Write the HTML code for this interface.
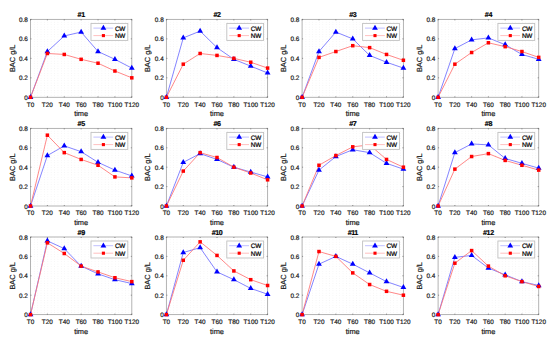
<!DOCTYPE html><html><head><meta charset="utf-8"><style>html,body{margin:0;padding:0;background:#fff;width:550px;height:342px;overflow:hidden}svg{display:block}text{font-family:"Liberation Sans",sans-serif;text-rendering:geometricPrecision;stroke:currentColor;stroke-width:0.2px}</style></head><body>
<svg width="550" height="342" viewBox="0 0 550 342">
<rect width="550" height="342" fill="#fff"/>
<defs><pattern id="g1" patternUnits="userSpaceOnUse" x="30.5" y="97.3" width="3.3767" height="2.4344"><rect x="-0.4" y="-0.4" width="0.8" height="0.8" fill="#cacaca"/></pattern></defs>
<rect x="31" y="19.9" width="100.3" height="76.9" fill="url(#g1)"/>
<rect x="30.5" y="19.4" width="101.3" height="77.9" fill="none" stroke="#ababab" stroke-width="0.9"/>
<path d="M30.5 97.3v-1M30.5 19.4v1M47.38 97.3v-1M47.38 19.4v1M64.27 97.3v-1M64.27 19.4v1M81.15 97.3v-1M81.15 19.4v1M98.03 97.3v-1M98.03 19.4v1M114.92 97.3v-1M114.92 19.4v1M131.8 97.3v-1M131.8 19.4v1M30.5 97.3h1M131.8 97.3h-1M30.5 77.82h1M131.8 77.82h-1M30.5 58.35h1M131.8 58.35h-1M30.5 38.87h1M131.8 38.87h-1M30.5 19.4h1M131.8 19.4h-1" stroke="#505050" stroke-width="0.6" fill="none"/>
<text x="30.5" y="106.7" font-size="6.4" text-anchor="middle" fill="#1a1a1a" color="#1a1a1a">T0</text>
<text x="47.38" y="106.7" font-size="6.4" text-anchor="middle" fill="#1a1a1a" color="#1a1a1a">T20</text>
<text x="64.27" y="106.7" font-size="6.4" text-anchor="middle" fill="#1a1a1a" color="#1a1a1a">T40</text>
<text x="81.15" y="106.7" font-size="6.4" text-anchor="middle" fill="#1a1a1a" color="#1a1a1a">T60</text>
<text x="98.03" y="106.7" font-size="6.4" text-anchor="middle" fill="#1a1a1a" color="#1a1a1a">T80</text>
<text x="114.92" y="106.7" font-size="6.4" text-anchor="middle" fill="#1a1a1a" color="#1a1a1a">T100</text>
<text x="131.8" y="106.7" font-size="6.4" text-anchor="middle" fill="#1a1a1a" color="#1a1a1a">T120</text>
<text x="27.8" y="99.9" font-size="6.4" text-anchor="end" fill="#1a1a1a" color="#1a1a1a">0</text>
<text x="27.8" y="80.42" font-size="6.4" text-anchor="end" fill="#1a1a1a" color="#1a1a1a">0.2</text>
<text x="27.8" y="60.95" font-size="6.4" text-anchor="end" fill="#1a1a1a" color="#1a1a1a">0.4</text>
<text x="27.8" y="41.47" font-size="6.4" text-anchor="end" fill="#1a1a1a" color="#1a1a1a">0.6</text>
<text x="27.8" y="22" font-size="6.4" text-anchor="end" fill="#1a1a1a" color="#1a1a1a">0.8</text>
<text x="81.15" y="16.9" font-size="7.1" font-weight="bold" letter-spacing="-0.4" text-anchor="middle" fill="#000" color="#000">#1</text>
<text x="81.15" y="116.3" font-size="7.4" text-anchor="middle" fill="#1a1a1a" color="#1a1a1a">time</text>
<text transform="translate(14.5 58.35) rotate(-90)" font-size="7.4" text-anchor="middle" fill="#1a1a1a" color="#1a1a1a">BAC g/L</text>
<polyline points="30.5,97.3 47.38,51.53 64.27,35.95 81.15,32.06 98.03,51.53 114.92,59.32 131.8,68.09" fill="none" stroke="#6e6eff" stroke-width="0.85"/>
<polyline points="30.5,97.3 47.38,53.48 64.27,54.45 81.15,59.32 98.03,63.22 114.92,71.01 131.8,77.82" fill="none" stroke="#ff7272" stroke-width="0.85"/>
<path d="M30.5 93.95l2.9 5.0h-5.8z" fill="#0000ff"/>
<path d="M47.38 48.18l2.9 5.0h-5.8z" fill="#0000ff"/>
<path d="M64.27 32.6l2.9 5.0h-5.8z" fill="#0000ff"/>
<path d="M81.15 28.71l2.9 5.0h-5.8z" fill="#0000ff"/>
<path d="M98.03 48.18l2.9 5.0h-5.8z" fill="#0000ff"/>
<path d="M114.92 55.97l2.9 5.0h-5.8z" fill="#0000ff"/>
<path d="M131.8 64.74l2.9 5.0h-5.8z" fill="#0000ff"/>
<rect x="28.75" y="95.55" width="3.5" height="3.5" fill="#ff0000"/>
<rect x="45.63" y="51.73" width="3.5" height="3.5" fill="#ff0000"/>
<rect x="62.52" y="52.7" width="3.5" height="3.5" fill="#ff0000"/>
<rect x="79.4" y="57.57" width="3.5" height="3.5" fill="#ff0000"/>
<rect x="96.28" y="61.47" width="3.5" height="3.5" fill="#ff0000"/>
<rect x="113.17" y="69.26" width="3.5" height="3.5" fill="#ff0000"/>
<rect x="130.05" y="76.07" width="3.5" height="3.5" fill="#ff0000"/>
<rect x="91" y="23.4" width="36.8" height="17" fill="#fff" stroke="#c0c0c0" stroke-width="0.9"/>
<path d="M93.4 28.1h19.8" stroke="#b0b0ff" stroke-width="0.8"/>
<path d="M93.4 35.6h19.8" stroke="#ffb0b0" stroke-width="0.8"/>
<path d="M103.4 24.8l2.9 5.0h-5.8z" fill="#0000ff"/>
<rect x="101.85" y="34.05" width="3.1" height="3.1" fill="#ff0000"/>
<text x="115" y="30.55" font-size="6.4" letter-spacing="-0.25" fill="#000" color="#000">CW</text>
<text x="115" y="38.05" font-size="6.4" letter-spacing="-0.25" fill="#000" color="#000">NW</text>
<defs><pattern id="g2" patternUnits="userSpaceOnUse" x="166.4" y="97.3" width="3.3733" height="2.4344"><rect x="-0.4" y="-0.4" width="0.8" height="0.8" fill="#cacaca"/></pattern></defs>
<rect x="166.9" y="19.9" width="100.2" height="76.9" fill="url(#g2)"/>
<rect x="166.4" y="19.4" width="101.2" height="77.9" fill="none" stroke="#ababab" stroke-width="0.9"/>
<path d="M166.4 97.3v-1M166.4 19.4v1M183.27 97.3v-1M183.27 19.4v1M200.13 97.3v-1M200.13 19.4v1M217 97.3v-1M217 19.4v1M233.87 97.3v-1M233.87 19.4v1M250.73 97.3v-1M250.73 19.4v1M267.6 97.3v-1M267.6 19.4v1M166.4 97.3h1M267.6 97.3h-1M166.4 77.82h1M267.6 77.82h-1M166.4 58.35h1M267.6 58.35h-1M166.4 38.87h1M267.6 38.87h-1M166.4 19.4h1M267.6 19.4h-1" stroke="#505050" stroke-width="0.6" fill="none"/>
<text x="166.4" y="106.7" font-size="6.4" text-anchor="middle" fill="#1a1a1a" color="#1a1a1a">T0</text>
<text x="183.27" y="106.7" font-size="6.4" text-anchor="middle" fill="#1a1a1a" color="#1a1a1a">T20</text>
<text x="200.13" y="106.7" font-size="6.4" text-anchor="middle" fill="#1a1a1a" color="#1a1a1a">T40</text>
<text x="217" y="106.7" font-size="6.4" text-anchor="middle" fill="#1a1a1a" color="#1a1a1a">T60</text>
<text x="233.87" y="106.7" font-size="6.4" text-anchor="middle" fill="#1a1a1a" color="#1a1a1a">T80</text>
<text x="250.73" y="106.7" font-size="6.4" text-anchor="middle" fill="#1a1a1a" color="#1a1a1a">T100</text>
<text x="267.6" y="106.7" font-size="6.4" text-anchor="middle" fill="#1a1a1a" color="#1a1a1a">T120</text>
<text x="163.7" y="99.9" font-size="6.4" text-anchor="end" fill="#1a1a1a" color="#1a1a1a">0</text>
<text x="163.7" y="80.42" font-size="6.4" text-anchor="end" fill="#1a1a1a" color="#1a1a1a">0.2</text>
<text x="163.7" y="60.95" font-size="6.4" text-anchor="end" fill="#1a1a1a" color="#1a1a1a">0.4</text>
<text x="163.7" y="41.47" font-size="6.4" text-anchor="end" fill="#1a1a1a" color="#1a1a1a">0.6</text>
<text x="163.7" y="22" font-size="6.4" text-anchor="end" fill="#1a1a1a" color="#1a1a1a">0.8</text>
<text x="217" y="16.9" font-size="7.1" font-weight="bold" letter-spacing="-0.4" text-anchor="middle" fill="#000" color="#000">#2</text>
<text x="217" y="116.3" font-size="7.4" text-anchor="middle" fill="#1a1a1a" color="#1a1a1a">time</text>
<text transform="translate(150.4 58.35) rotate(-90)" font-size="7.4" text-anchor="middle" fill="#1a1a1a" color="#1a1a1a">BAC g/L</text>
<polyline points="166.4,97.3 183.27,37.9 200.13,31.08 217,47.64 233.87,59.32 250.73,66.14 267.6,72.96" fill="none" stroke="#6e6eff" stroke-width="0.85"/>
<polyline points="166.4,97.3 183.27,64.19 200.13,53.48 217,55.43 233.87,58.35 250.73,62.24 267.6,68.09" fill="none" stroke="#ff7272" stroke-width="0.85"/>
<path d="M166.4 93.95l2.9 5.0h-5.8z" fill="#0000ff"/>
<path d="M183.27 34.55l2.9 5.0h-5.8z" fill="#0000ff"/>
<path d="M200.13 27.73l2.9 5.0h-5.8z" fill="#0000ff"/>
<path d="M217 44.29l2.9 5.0h-5.8z" fill="#0000ff"/>
<path d="M233.87 55.97l2.9 5.0h-5.8z" fill="#0000ff"/>
<path d="M250.73 62.79l2.9 5.0h-5.8z" fill="#0000ff"/>
<path d="M267.6 69.61l2.9 5.0h-5.8z" fill="#0000ff"/>
<rect x="164.65" y="95.55" width="3.5" height="3.5" fill="#ff0000"/>
<rect x="181.52" y="62.44" width="3.5" height="3.5" fill="#ff0000"/>
<rect x="198.38" y="51.73" width="3.5" height="3.5" fill="#ff0000"/>
<rect x="215.25" y="53.68" width="3.5" height="3.5" fill="#ff0000"/>
<rect x="232.12" y="56.6" width="3.5" height="3.5" fill="#ff0000"/>
<rect x="248.98" y="60.49" width="3.5" height="3.5" fill="#ff0000"/>
<rect x="265.85" y="66.34" width="3.5" height="3.5" fill="#ff0000"/>
<rect x="226.8" y="23.4" width="36.8" height="17" fill="#fff" stroke="#c0c0c0" stroke-width="0.9"/>
<path d="M229.2 28.1h19.8" stroke="#b0b0ff" stroke-width="0.8"/>
<path d="M229.2 35.6h19.8" stroke="#ffb0b0" stroke-width="0.8"/>
<path d="M239.2 24.8l2.9 5.0h-5.8z" fill="#0000ff"/>
<rect x="237.65" y="34.05" width="3.1" height="3.1" fill="#ff0000"/>
<text x="250.8" y="30.55" font-size="6.4" letter-spacing="-0.25" fill="#000" color="#000">CW</text>
<text x="250.8" y="38.05" font-size="6.4" letter-spacing="-0.25" fill="#000" color="#000">NW</text>
<defs><pattern id="g3" patternUnits="userSpaceOnUse" x="302.1" y="97.3" width="3.3767" height="2.4344"><rect x="-0.4" y="-0.4" width="0.8" height="0.8" fill="#cacaca"/></pattern></defs>
<rect x="302.6" y="19.9" width="100.3" height="76.9" fill="url(#g3)"/>
<rect x="302.1" y="19.4" width="101.3" height="77.9" fill="none" stroke="#ababab" stroke-width="0.9"/>
<path d="M302.1 97.3v-1M302.1 19.4v1M318.98 97.3v-1M318.98 19.4v1M335.87 97.3v-1M335.87 19.4v1M352.75 97.3v-1M352.75 19.4v1M369.63 97.3v-1M369.63 19.4v1M386.52 97.3v-1M386.52 19.4v1M403.4 97.3v-1M403.4 19.4v1M302.1 97.3h1M403.4 97.3h-1M302.1 77.82h1M403.4 77.82h-1M302.1 58.35h1M403.4 58.35h-1M302.1 38.87h1M403.4 38.87h-1M302.1 19.4h1M403.4 19.4h-1" stroke="#505050" stroke-width="0.6" fill="none"/>
<text x="302.1" y="106.7" font-size="6.4" text-anchor="middle" fill="#1a1a1a" color="#1a1a1a">T0</text>
<text x="318.98" y="106.7" font-size="6.4" text-anchor="middle" fill="#1a1a1a" color="#1a1a1a">T20</text>
<text x="335.87" y="106.7" font-size="6.4" text-anchor="middle" fill="#1a1a1a" color="#1a1a1a">T40</text>
<text x="352.75" y="106.7" font-size="6.4" text-anchor="middle" fill="#1a1a1a" color="#1a1a1a">T60</text>
<text x="369.63" y="106.7" font-size="6.4" text-anchor="middle" fill="#1a1a1a" color="#1a1a1a">T80</text>
<text x="386.52" y="106.7" font-size="6.4" text-anchor="middle" fill="#1a1a1a" color="#1a1a1a">T100</text>
<text x="403.4" y="106.7" font-size="6.4" text-anchor="middle" fill="#1a1a1a" color="#1a1a1a">T120</text>
<text x="299.4" y="99.9" font-size="6.4" text-anchor="end" fill="#1a1a1a" color="#1a1a1a">0</text>
<text x="299.4" y="80.42" font-size="6.4" text-anchor="end" fill="#1a1a1a" color="#1a1a1a">0.2</text>
<text x="299.4" y="60.95" font-size="6.4" text-anchor="end" fill="#1a1a1a" color="#1a1a1a">0.4</text>
<text x="299.4" y="41.47" font-size="6.4" text-anchor="end" fill="#1a1a1a" color="#1a1a1a">0.6</text>
<text x="299.4" y="22" font-size="6.4" text-anchor="end" fill="#1a1a1a" color="#1a1a1a">0.8</text>
<text x="352.75" y="16.9" font-size="7.1" font-weight="bold" letter-spacing="-0.4" text-anchor="middle" fill="#000" color="#000">#3</text>
<text x="352.75" y="116.3" font-size="7.4" text-anchor="middle" fill="#1a1a1a" color="#1a1a1a">time</text>
<text transform="translate(286.1 58.35) rotate(-90)" font-size="7.4" text-anchor="middle" fill="#1a1a1a" color="#1a1a1a">BAC g/L</text>
<polyline points="302.1,97.3 318.98,51.53 335.87,32.06 352.75,38.88 369.63,55.43 386.52,62.24 403.4,68.09" fill="none" stroke="#6e6eff" stroke-width="0.85"/>
<polyline points="302.1,97.3 318.98,57.38 335.87,51.53 352.75,45.69 369.63,47.64 386.52,54.45 403.4,60.3" fill="none" stroke="#ff7272" stroke-width="0.85"/>
<path d="M302.1 93.95l2.9 5.0h-5.8z" fill="#0000ff"/>
<path d="M318.98 48.18l2.9 5.0h-5.8z" fill="#0000ff"/>
<path d="M335.87 28.71l2.9 5.0h-5.8z" fill="#0000ff"/>
<path d="M352.75 35.52l2.9 5.0h-5.8z" fill="#0000ff"/>
<path d="M369.63 52.08l2.9 5.0h-5.8z" fill="#0000ff"/>
<path d="M386.52 58.89l2.9 5.0h-5.8z" fill="#0000ff"/>
<path d="M403.4 64.74l2.9 5.0h-5.8z" fill="#0000ff"/>
<rect x="300.35" y="95.55" width="3.5" height="3.5" fill="#ff0000"/>
<rect x="317.23" y="55.63" width="3.5" height="3.5" fill="#ff0000"/>
<rect x="334.12" y="49.78" width="3.5" height="3.5" fill="#ff0000"/>
<rect x="351" y="43.94" width="3.5" height="3.5" fill="#ff0000"/>
<rect x="367.88" y="45.89" width="3.5" height="3.5" fill="#ff0000"/>
<rect x="384.77" y="52.7" width="3.5" height="3.5" fill="#ff0000"/>
<rect x="401.65" y="58.55" width="3.5" height="3.5" fill="#ff0000"/>
<rect x="362.6" y="23.4" width="36.8" height="17" fill="#fff" stroke="#c0c0c0" stroke-width="0.9"/>
<path d="M365 28.1h19.8" stroke="#b0b0ff" stroke-width="0.8"/>
<path d="M365 35.6h19.8" stroke="#ffb0b0" stroke-width="0.8"/>
<path d="M375 24.8l2.9 5.0h-5.8z" fill="#0000ff"/>
<rect x="373.45" y="34.05" width="3.1" height="3.1" fill="#ff0000"/>
<text x="386.6" y="30.55" font-size="6.4" letter-spacing="-0.25" fill="#000" color="#000">CW</text>
<text x="386.6" y="38.05" font-size="6.4" letter-spacing="-0.25" fill="#000" color="#000">NW</text>
<defs><pattern id="g4" patternUnits="userSpaceOnUse" x="438.1" y="97.3" width="3.3533" height="2.4344"><rect x="-0.4" y="-0.4" width="0.8" height="0.8" fill="#cacaca"/></pattern></defs>
<rect x="438.6" y="19.9" width="99.6" height="76.9" fill="url(#g4)"/>
<rect x="438.1" y="19.4" width="100.6" height="77.9" fill="none" stroke="#ababab" stroke-width="0.9"/>
<path d="M438.1 97.3v-1M438.1 19.4v1M454.87 97.3v-1M454.87 19.4v1M471.63 97.3v-1M471.63 19.4v1M488.4 97.3v-1M488.4 19.4v1M505.17 97.3v-1M505.17 19.4v1M521.93 97.3v-1M521.93 19.4v1M538.7 97.3v-1M538.7 19.4v1M438.1 97.3h1M538.7 97.3h-1M438.1 77.82h1M538.7 77.82h-1M438.1 58.35h1M538.7 58.35h-1M438.1 38.87h1M538.7 38.87h-1M438.1 19.4h1M538.7 19.4h-1" stroke="#505050" stroke-width="0.6" fill="none"/>
<text x="438.1" y="106.7" font-size="6.4" text-anchor="middle" fill="#1a1a1a" color="#1a1a1a">T0</text>
<text x="454.87" y="106.7" font-size="6.4" text-anchor="middle" fill="#1a1a1a" color="#1a1a1a">T20</text>
<text x="471.63" y="106.7" font-size="6.4" text-anchor="middle" fill="#1a1a1a" color="#1a1a1a">T40</text>
<text x="488.4" y="106.7" font-size="6.4" text-anchor="middle" fill="#1a1a1a" color="#1a1a1a">T60</text>
<text x="505.17" y="106.7" font-size="6.4" text-anchor="middle" fill="#1a1a1a" color="#1a1a1a">T80</text>
<text x="521.93" y="106.7" font-size="6.4" text-anchor="middle" fill="#1a1a1a" color="#1a1a1a">T100</text>
<text x="538.7" y="106.7" font-size="6.4" text-anchor="middle" fill="#1a1a1a" color="#1a1a1a">T120</text>
<text x="435.4" y="99.9" font-size="6.4" text-anchor="end" fill="#1a1a1a" color="#1a1a1a">0</text>
<text x="435.4" y="80.42" font-size="6.4" text-anchor="end" fill="#1a1a1a" color="#1a1a1a">0.2</text>
<text x="435.4" y="60.95" font-size="6.4" text-anchor="end" fill="#1a1a1a" color="#1a1a1a">0.4</text>
<text x="435.4" y="41.47" font-size="6.4" text-anchor="end" fill="#1a1a1a" color="#1a1a1a">0.6</text>
<text x="435.4" y="22" font-size="6.4" text-anchor="end" fill="#1a1a1a" color="#1a1a1a">0.8</text>
<text x="488.4" y="16.9" font-size="7.1" font-weight="bold" letter-spacing="-0.4" text-anchor="middle" fill="#000" color="#000">#4</text>
<text x="488.4" y="116.3" font-size="7.4" text-anchor="middle" fill="#1a1a1a" color="#1a1a1a">time</text>
<text transform="translate(422.1 58.35) rotate(-90)" font-size="7.4" text-anchor="middle" fill="#1a1a1a" color="#1a1a1a">BAC g/L</text>
<polyline points="438.1,97.3 454.87,48.61 471.63,39.85 488.4,37.9 505.17,44.72 521.93,54.45 538.7,59.32" fill="none" stroke="#6e6eff" stroke-width="0.85"/>
<polyline points="438.1,97.3 454.87,64.19 471.63,52.51 488.4,42.77 505.17,46.66 521.93,51.53 538.7,57.38" fill="none" stroke="#ff7272" stroke-width="0.85"/>
<path d="M438.1 93.95l2.9 5.0h-5.8z" fill="#0000ff"/>
<path d="M454.87 45.26l2.9 5.0h-5.8z" fill="#0000ff"/>
<path d="M471.63 36.5l2.9 5.0h-5.8z" fill="#0000ff"/>
<path d="M488.4 34.55l2.9 5.0h-5.8z" fill="#0000ff"/>
<path d="M505.17 41.37l2.9 5.0h-5.8z" fill="#0000ff"/>
<path d="M521.93 51.1l2.9 5.0h-5.8z" fill="#0000ff"/>
<path d="M538.7 55.97l2.9 5.0h-5.8z" fill="#0000ff"/>
<rect x="436.35" y="95.55" width="3.5" height="3.5" fill="#ff0000"/>
<rect x="453.12" y="62.44" width="3.5" height="3.5" fill="#ff0000"/>
<rect x="469.88" y="50.76" width="3.5" height="3.5" fill="#ff0000"/>
<rect x="486.65" y="41.02" width="3.5" height="3.5" fill="#ff0000"/>
<rect x="503.42" y="44.91" width="3.5" height="3.5" fill="#ff0000"/>
<rect x="520.18" y="49.78" width="3.5" height="3.5" fill="#ff0000"/>
<rect x="536.95" y="55.63" width="3.5" height="3.5" fill="#ff0000"/>
<rect x="497.9" y="23.4" width="36.8" height="17" fill="#fff" stroke="#c0c0c0" stroke-width="0.9"/>
<path d="M500.3 28.1h19.8" stroke="#b0b0ff" stroke-width="0.8"/>
<path d="M500.3 35.6h19.8" stroke="#ffb0b0" stroke-width="0.8"/>
<path d="M510.3 24.8l2.9 5.0h-5.8z" fill="#0000ff"/>
<rect x="508.75" y="34.05" width="3.1" height="3.1" fill="#ff0000"/>
<text x="521.9" y="30.55" font-size="6.4" letter-spacing="-0.25" fill="#000" color="#000">CW</text>
<text x="521.9" y="38.05" font-size="6.4" letter-spacing="-0.25" fill="#000" color="#000">NW</text>
<defs><pattern id="g5" patternUnits="userSpaceOnUse" x="30.5" y="206" width="3.3767" height="2.4250"><rect x="-0.4" y="-0.4" width="0.8" height="0.8" fill="#cacaca"/></pattern></defs>
<rect x="31" y="128.9" width="100.3" height="76.6" fill="url(#g5)"/>
<rect x="30.5" y="128.4" width="101.3" height="77.6" fill="none" stroke="#ababab" stroke-width="0.9"/>
<path d="M30.5 206v-1M30.5 128.4v1M47.38 206v-1M47.38 128.4v1M64.27 206v-1M64.27 128.4v1M81.15 206v-1M81.15 128.4v1M98.03 206v-1M98.03 128.4v1M114.92 206v-1M114.92 128.4v1M131.8 206v-1M131.8 128.4v1M30.5 206h1M131.8 206h-1M30.5 186.6h1M131.8 186.6h-1M30.5 167.2h1M131.8 167.2h-1M30.5 147.8h1M131.8 147.8h-1M30.5 128.4h1M131.8 128.4h-1" stroke="#505050" stroke-width="0.6" fill="none"/>
<text x="30.5" y="215.4" font-size="6.4" text-anchor="middle" fill="#1a1a1a" color="#1a1a1a">T0</text>
<text x="47.38" y="215.4" font-size="6.4" text-anchor="middle" fill="#1a1a1a" color="#1a1a1a">T20</text>
<text x="64.27" y="215.4" font-size="6.4" text-anchor="middle" fill="#1a1a1a" color="#1a1a1a">T40</text>
<text x="81.15" y="215.4" font-size="6.4" text-anchor="middle" fill="#1a1a1a" color="#1a1a1a">T60</text>
<text x="98.03" y="215.4" font-size="6.4" text-anchor="middle" fill="#1a1a1a" color="#1a1a1a">T80</text>
<text x="114.92" y="215.4" font-size="6.4" text-anchor="middle" fill="#1a1a1a" color="#1a1a1a">T100</text>
<text x="131.8" y="215.4" font-size="6.4" text-anchor="middle" fill="#1a1a1a" color="#1a1a1a">T120</text>
<text x="27.8" y="208.6" font-size="6.4" text-anchor="end" fill="#1a1a1a" color="#1a1a1a">0</text>
<text x="27.8" y="189.2" font-size="6.4" text-anchor="end" fill="#1a1a1a" color="#1a1a1a">0.2</text>
<text x="27.8" y="169.8" font-size="6.4" text-anchor="end" fill="#1a1a1a" color="#1a1a1a">0.4</text>
<text x="27.8" y="150.4" font-size="6.4" text-anchor="end" fill="#1a1a1a" color="#1a1a1a">0.6</text>
<text x="27.8" y="131" font-size="6.4" text-anchor="end" fill="#1a1a1a" color="#1a1a1a">0.8</text>
<text x="81.15" y="125.9" font-size="7.1" font-weight="bold" letter-spacing="-0.4" text-anchor="middle" fill="#000" color="#000">#5</text>
<text x="81.15" y="225" font-size="7.4" text-anchor="middle" fill="#1a1a1a" color="#1a1a1a">time</text>
<text transform="translate(14.5 167.2) rotate(-90)" font-size="7.4" text-anchor="middle" fill="#1a1a1a" color="#1a1a1a">BAC g/L</text>
<polyline points="30.5,206 47.38,155.56 64.27,145.86 81.15,151.68 98.03,162.35 114.92,170.11 131.8,175.93" fill="none" stroke="#6e6eff" stroke-width="0.85"/>
<polyline points="30.5,206 47.38,135.19 64.27,152.65 81.15,159.44 98.03,165.26 114.92,176.9 131.8,177.87" fill="none" stroke="#ff7272" stroke-width="0.85"/>
<path d="M30.5 202.65l2.9 5.0h-5.8z" fill="#0000ff"/>
<path d="M47.38 152.21l2.9 5.0h-5.8z" fill="#0000ff"/>
<path d="M64.27 142.51l2.9 5.0h-5.8z" fill="#0000ff"/>
<path d="M81.15 148.33l2.9 5.0h-5.8z" fill="#0000ff"/>
<path d="M98.03 159l2.9 5.0h-5.8z" fill="#0000ff"/>
<path d="M114.92 166.76l2.9 5.0h-5.8z" fill="#0000ff"/>
<path d="M131.8 172.58l2.9 5.0h-5.8z" fill="#0000ff"/>
<rect x="28.75" y="204.25" width="3.5" height="3.5" fill="#ff0000"/>
<rect x="45.63" y="133.44" width="3.5" height="3.5" fill="#ff0000"/>
<rect x="62.52" y="150.9" width="3.5" height="3.5" fill="#ff0000"/>
<rect x="79.4" y="157.69" width="3.5" height="3.5" fill="#ff0000"/>
<rect x="96.28" y="163.51" width="3.5" height="3.5" fill="#ff0000"/>
<rect x="113.17" y="175.15" width="3.5" height="3.5" fill="#ff0000"/>
<rect x="130.05" y="176.12" width="3.5" height="3.5" fill="#ff0000"/>
<rect x="91" y="132.4" width="36.8" height="17" fill="#fff" stroke="#c0c0c0" stroke-width="0.9"/>
<path d="M93.4 137.1h19.8" stroke="#b0b0ff" stroke-width="0.8"/>
<path d="M93.4 144.6h19.8" stroke="#ffb0b0" stroke-width="0.8"/>
<path d="M103.4 133.8l2.9 5.0h-5.8z" fill="#0000ff"/>
<rect x="101.85" y="143.05" width="3.1" height="3.1" fill="#ff0000"/>
<text x="115" y="139.55" font-size="6.4" letter-spacing="-0.25" fill="#000" color="#000">CW</text>
<text x="115" y="147.05" font-size="6.4" letter-spacing="-0.25" fill="#000" color="#000">NW</text>
<defs><pattern id="g6" patternUnits="userSpaceOnUse" x="166.4" y="206" width="3.3733" height="2.4250"><rect x="-0.4" y="-0.4" width="0.8" height="0.8" fill="#cacaca"/></pattern></defs>
<rect x="166.9" y="128.9" width="100.2" height="76.6" fill="url(#g6)"/>
<rect x="166.4" y="128.4" width="101.2" height="77.6" fill="none" stroke="#ababab" stroke-width="0.9"/>
<path d="M166.4 206v-1M166.4 128.4v1M183.27 206v-1M183.27 128.4v1M200.13 206v-1M200.13 128.4v1M217 206v-1M217 128.4v1M233.87 206v-1M233.87 128.4v1M250.73 206v-1M250.73 128.4v1M267.6 206v-1M267.6 128.4v1M166.4 206h1M267.6 206h-1M166.4 186.6h1M267.6 186.6h-1M166.4 167.2h1M267.6 167.2h-1M166.4 147.8h1M267.6 147.8h-1M166.4 128.4h1M267.6 128.4h-1" stroke="#505050" stroke-width="0.6" fill="none"/>
<text x="166.4" y="215.4" font-size="6.4" text-anchor="middle" fill="#1a1a1a" color="#1a1a1a">T0</text>
<text x="183.27" y="215.4" font-size="6.4" text-anchor="middle" fill="#1a1a1a" color="#1a1a1a">T20</text>
<text x="200.13" y="215.4" font-size="6.4" text-anchor="middle" fill="#1a1a1a" color="#1a1a1a">T40</text>
<text x="217" y="215.4" font-size="6.4" text-anchor="middle" fill="#1a1a1a" color="#1a1a1a">T60</text>
<text x="233.87" y="215.4" font-size="6.4" text-anchor="middle" fill="#1a1a1a" color="#1a1a1a">T80</text>
<text x="250.73" y="215.4" font-size="6.4" text-anchor="middle" fill="#1a1a1a" color="#1a1a1a">T100</text>
<text x="267.6" y="215.4" font-size="6.4" text-anchor="middle" fill="#1a1a1a" color="#1a1a1a">T120</text>
<text x="163.7" y="208.6" font-size="6.4" text-anchor="end" fill="#1a1a1a" color="#1a1a1a">0</text>
<text x="163.7" y="189.2" font-size="6.4" text-anchor="end" fill="#1a1a1a" color="#1a1a1a">0.2</text>
<text x="163.7" y="169.8" font-size="6.4" text-anchor="end" fill="#1a1a1a" color="#1a1a1a">0.4</text>
<text x="163.7" y="150.4" font-size="6.4" text-anchor="end" fill="#1a1a1a" color="#1a1a1a">0.6</text>
<text x="163.7" y="131" font-size="6.4" text-anchor="end" fill="#1a1a1a" color="#1a1a1a">0.8</text>
<text x="217" y="125.9" font-size="7.1" font-weight="bold" letter-spacing="-0.4" text-anchor="middle" fill="#000" color="#000">#6</text>
<text x="217" y="225" font-size="7.4" text-anchor="middle" fill="#1a1a1a" color="#1a1a1a">time</text>
<text transform="translate(150.4 167.2) rotate(-90)" font-size="7.4" text-anchor="middle" fill="#1a1a1a" color="#1a1a1a">BAC g/L</text>
<polyline points="166.4,206 183.27,162.35 200.13,153.62 217,159.44 233.87,167.2 250.73,172.05 267.6,176.9" fill="none" stroke="#6e6eff" stroke-width="0.85"/>
<polyline points="166.4,206 183.27,171.08 200.13,152.65 217,157.5 233.87,167.2 250.73,173.02 267.6,179.81" fill="none" stroke="#ff7272" stroke-width="0.85"/>
<path d="M166.4 202.65l2.9 5.0h-5.8z" fill="#0000ff"/>
<path d="M183.27 159l2.9 5.0h-5.8z" fill="#0000ff"/>
<path d="M200.13 150.27l2.9 5.0h-5.8z" fill="#0000ff"/>
<path d="M217 156.09l2.9 5.0h-5.8z" fill="#0000ff"/>
<path d="M233.87 163.85l2.9 5.0h-5.8z" fill="#0000ff"/>
<path d="M250.73 168.7l2.9 5.0h-5.8z" fill="#0000ff"/>
<path d="M267.6 173.55l2.9 5.0h-5.8z" fill="#0000ff"/>
<rect x="164.65" y="204.25" width="3.5" height="3.5" fill="#ff0000"/>
<rect x="181.52" y="169.33" width="3.5" height="3.5" fill="#ff0000"/>
<rect x="198.38" y="150.9" width="3.5" height="3.5" fill="#ff0000"/>
<rect x="215.25" y="155.75" width="3.5" height="3.5" fill="#ff0000"/>
<rect x="232.12" y="165.45" width="3.5" height="3.5" fill="#ff0000"/>
<rect x="248.98" y="171.27" width="3.5" height="3.5" fill="#ff0000"/>
<rect x="265.85" y="178.06" width="3.5" height="3.5" fill="#ff0000"/>
<rect x="226.8" y="132.4" width="36.8" height="17" fill="#fff" stroke="#c0c0c0" stroke-width="0.9"/>
<path d="M229.2 137.1h19.8" stroke="#b0b0ff" stroke-width="0.8"/>
<path d="M229.2 144.6h19.8" stroke="#ffb0b0" stroke-width="0.8"/>
<path d="M239.2 133.8l2.9 5.0h-5.8z" fill="#0000ff"/>
<rect x="237.65" y="143.05" width="3.1" height="3.1" fill="#ff0000"/>
<text x="250.8" y="139.55" font-size="6.4" letter-spacing="-0.25" fill="#000" color="#000">CW</text>
<text x="250.8" y="147.05" font-size="6.4" letter-spacing="-0.25" fill="#000" color="#000">NW</text>
<defs><pattern id="g7" patternUnits="userSpaceOnUse" x="302.1" y="206" width="3.3767" height="2.4250"><rect x="-0.4" y="-0.4" width="0.8" height="0.8" fill="#cacaca"/></pattern></defs>
<rect x="302.6" y="128.9" width="100.3" height="76.6" fill="url(#g7)"/>
<rect x="302.1" y="128.4" width="101.3" height="77.6" fill="none" stroke="#ababab" stroke-width="0.9"/>
<path d="M302.1 206v-1M302.1 128.4v1M318.98 206v-1M318.98 128.4v1M335.87 206v-1M335.87 128.4v1M352.75 206v-1M352.75 128.4v1M369.63 206v-1M369.63 128.4v1M386.52 206v-1M386.52 128.4v1M403.4 206v-1M403.4 128.4v1M302.1 206h1M403.4 206h-1M302.1 186.6h1M403.4 186.6h-1M302.1 167.2h1M403.4 167.2h-1M302.1 147.8h1M403.4 147.8h-1M302.1 128.4h1M403.4 128.4h-1" stroke="#505050" stroke-width="0.6" fill="none"/>
<text x="302.1" y="215.4" font-size="6.4" text-anchor="middle" fill="#1a1a1a" color="#1a1a1a">T0</text>
<text x="318.98" y="215.4" font-size="6.4" text-anchor="middle" fill="#1a1a1a" color="#1a1a1a">T20</text>
<text x="335.87" y="215.4" font-size="6.4" text-anchor="middle" fill="#1a1a1a" color="#1a1a1a">T40</text>
<text x="352.75" y="215.4" font-size="6.4" text-anchor="middle" fill="#1a1a1a" color="#1a1a1a">T60</text>
<text x="369.63" y="215.4" font-size="6.4" text-anchor="middle" fill="#1a1a1a" color="#1a1a1a">T80</text>
<text x="386.52" y="215.4" font-size="6.4" text-anchor="middle" fill="#1a1a1a" color="#1a1a1a">T100</text>
<text x="403.4" y="215.4" font-size="6.4" text-anchor="middle" fill="#1a1a1a" color="#1a1a1a">T120</text>
<text x="299.4" y="208.6" font-size="6.4" text-anchor="end" fill="#1a1a1a" color="#1a1a1a">0</text>
<text x="299.4" y="189.2" font-size="6.4" text-anchor="end" fill="#1a1a1a" color="#1a1a1a">0.2</text>
<text x="299.4" y="169.8" font-size="6.4" text-anchor="end" fill="#1a1a1a" color="#1a1a1a">0.4</text>
<text x="299.4" y="150.4" font-size="6.4" text-anchor="end" fill="#1a1a1a" color="#1a1a1a">0.6</text>
<text x="299.4" y="131" font-size="6.4" text-anchor="end" fill="#1a1a1a" color="#1a1a1a">0.8</text>
<text x="352.75" y="125.9" font-size="7.1" font-weight="bold" letter-spacing="-0.4" text-anchor="middle" fill="#000" color="#000">#7</text>
<text x="352.75" y="225" font-size="7.4" text-anchor="middle" fill="#1a1a1a" color="#1a1a1a">time</text>
<text transform="translate(286.1 167.2) rotate(-90)" font-size="7.4" text-anchor="middle" fill="#1a1a1a" color="#1a1a1a">BAC g/L</text>
<polyline points="302.1,206 318.98,170.11 335.87,156.53 352.75,149.74 369.63,152.65 386.52,163.32 403.4,169.14" fill="none" stroke="#6e6eff" stroke-width="0.85"/>
<polyline points="302.1,206 318.98,165.26 335.87,155.56 352.75,146.83 369.63,144.89 386.52,159.44 403.4,167.2" fill="none" stroke="#ff7272" stroke-width="0.85"/>
<path d="M302.1 202.65l2.9 5.0h-5.8z" fill="#0000ff"/>
<path d="M318.98 166.76l2.9 5.0h-5.8z" fill="#0000ff"/>
<path d="M335.87 153.18l2.9 5.0h-5.8z" fill="#0000ff"/>
<path d="M352.75 146.39l2.9 5.0h-5.8z" fill="#0000ff"/>
<path d="M369.63 149.3l2.9 5.0h-5.8z" fill="#0000ff"/>
<path d="M386.52 159.97l2.9 5.0h-5.8z" fill="#0000ff"/>
<path d="M403.4 165.79l2.9 5.0h-5.8z" fill="#0000ff"/>
<rect x="300.35" y="204.25" width="3.5" height="3.5" fill="#ff0000"/>
<rect x="317.23" y="163.51" width="3.5" height="3.5" fill="#ff0000"/>
<rect x="334.12" y="153.81" width="3.5" height="3.5" fill="#ff0000"/>
<rect x="351" y="145.08" width="3.5" height="3.5" fill="#ff0000"/>
<rect x="367.88" y="143.14" width="3.5" height="3.5" fill="#ff0000"/>
<rect x="384.77" y="157.69" width="3.5" height="3.5" fill="#ff0000"/>
<rect x="401.65" y="165.45" width="3.5" height="3.5" fill="#ff0000"/>
<rect x="362.6" y="132.4" width="36.8" height="17" fill="#fff" stroke="#c0c0c0" stroke-width="0.9"/>
<path d="M365 137.1h19.8" stroke="#b0b0ff" stroke-width="0.8"/>
<path d="M365 144.6h19.8" stroke="#ffb0b0" stroke-width="0.8"/>
<path d="M375 133.8l2.9 5.0h-5.8z" fill="#0000ff"/>
<rect x="373.45" y="143.05" width="3.1" height="3.1" fill="#ff0000"/>
<text x="386.6" y="139.55" font-size="6.4" letter-spacing="-0.25" fill="#000" color="#000">CW</text>
<text x="386.6" y="147.05" font-size="6.4" letter-spacing="-0.25" fill="#000" color="#000">NW</text>
<defs><pattern id="g8" patternUnits="userSpaceOnUse" x="438.1" y="206" width="3.3533" height="2.4250"><rect x="-0.4" y="-0.4" width="0.8" height="0.8" fill="#cacaca"/></pattern></defs>
<rect x="438.6" y="128.9" width="99.6" height="76.6" fill="url(#g8)"/>
<rect x="438.1" y="128.4" width="100.6" height="77.6" fill="none" stroke="#ababab" stroke-width="0.9"/>
<path d="M438.1 206v-1M438.1 128.4v1M454.87 206v-1M454.87 128.4v1M471.63 206v-1M471.63 128.4v1M488.4 206v-1M488.4 128.4v1M505.17 206v-1M505.17 128.4v1M521.93 206v-1M521.93 128.4v1M538.7 206v-1M538.7 128.4v1M438.1 206h1M538.7 206h-1M438.1 186.6h1M538.7 186.6h-1M438.1 167.2h1M538.7 167.2h-1M438.1 147.8h1M538.7 147.8h-1M438.1 128.4h1M538.7 128.4h-1" stroke="#505050" stroke-width="0.6" fill="none"/>
<text x="438.1" y="215.4" font-size="6.4" text-anchor="middle" fill="#1a1a1a" color="#1a1a1a">T0</text>
<text x="454.87" y="215.4" font-size="6.4" text-anchor="middle" fill="#1a1a1a" color="#1a1a1a">T20</text>
<text x="471.63" y="215.4" font-size="6.4" text-anchor="middle" fill="#1a1a1a" color="#1a1a1a">T40</text>
<text x="488.4" y="215.4" font-size="6.4" text-anchor="middle" fill="#1a1a1a" color="#1a1a1a">T60</text>
<text x="505.17" y="215.4" font-size="6.4" text-anchor="middle" fill="#1a1a1a" color="#1a1a1a">T80</text>
<text x="521.93" y="215.4" font-size="6.4" text-anchor="middle" fill="#1a1a1a" color="#1a1a1a">T100</text>
<text x="538.7" y="215.4" font-size="6.4" text-anchor="middle" fill="#1a1a1a" color="#1a1a1a">T120</text>
<text x="435.4" y="208.6" font-size="6.4" text-anchor="end" fill="#1a1a1a" color="#1a1a1a">0</text>
<text x="435.4" y="189.2" font-size="6.4" text-anchor="end" fill="#1a1a1a" color="#1a1a1a">0.2</text>
<text x="435.4" y="169.8" font-size="6.4" text-anchor="end" fill="#1a1a1a" color="#1a1a1a">0.4</text>
<text x="435.4" y="150.4" font-size="6.4" text-anchor="end" fill="#1a1a1a" color="#1a1a1a">0.6</text>
<text x="435.4" y="131" font-size="6.4" text-anchor="end" fill="#1a1a1a" color="#1a1a1a">0.8</text>
<text x="488.4" y="125.9" font-size="7.1" font-weight="bold" letter-spacing="-0.4" text-anchor="middle" fill="#000" color="#000">#8</text>
<text x="488.4" y="225" font-size="7.4" text-anchor="middle" fill="#1a1a1a" color="#1a1a1a">time</text>
<text transform="translate(422.1 167.2) rotate(-90)" font-size="7.4" text-anchor="middle" fill="#1a1a1a" color="#1a1a1a">BAC g/L</text>
<polyline points="438.1,206 454.87,152.65 471.63,143.92 488.4,144.89 505.17,158.47 521.93,163.32 538.7,168.17" fill="none" stroke="#6e6eff" stroke-width="0.85"/>
<polyline points="438.1,206 454.87,169.14 471.63,156.53 488.4,153.62 505.17,160.41 521.93,165.26 538.7,170.11" fill="none" stroke="#ff7272" stroke-width="0.85"/>
<path d="M438.1 202.65l2.9 5.0h-5.8z" fill="#0000ff"/>
<path d="M454.87 149.3l2.9 5.0h-5.8z" fill="#0000ff"/>
<path d="M471.63 140.57l2.9 5.0h-5.8z" fill="#0000ff"/>
<path d="M488.4 141.54l2.9 5.0h-5.8z" fill="#0000ff"/>
<path d="M505.17 155.12l2.9 5.0h-5.8z" fill="#0000ff"/>
<path d="M521.93 159.97l2.9 5.0h-5.8z" fill="#0000ff"/>
<path d="M538.7 164.82l2.9 5.0h-5.8z" fill="#0000ff"/>
<rect x="436.35" y="204.25" width="3.5" height="3.5" fill="#ff0000"/>
<rect x="453.12" y="167.39" width="3.5" height="3.5" fill="#ff0000"/>
<rect x="469.88" y="154.78" width="3.5" height="3.5" fill="#ff0000"/>
<rect x="486.65" y="151.87" width="3.5" height="3.5" fill="#ff0000"/>
<rect x="503.42" y="158.66" width="3.5" height="3.5" fill="#ff0000"/>
<rect x="520.18" y="163.51" width="3.5" height="3.5" fill="#ff0000"/>
<rect x="536.95" y="168.36" width="3.5" height="3.5" fill="#ff0000"/>
<rect x="497.9" y="132.4" width="36.8" height="17" fill="#fff" stroke="#c0c0c0" stroke-width="0.9"/>
<path d="M500.3 137.1h19.8" stroke="#b0b0ff" stroke-width="0.8"/>
<path d="M500.3 144.6h19.8" stroke="#ffb0b0" stroke-width="0.8"/>
<path d="M510.3 133.8l2.9 5.0h-5.8z" fill="#0000ff"/>
<rect x="508.75" y="143.05" width="3.1" height="3.1" fill="#ff0000"/>
<text x="521.9" y="139.55" font-size="6.4" letter-spacing="-0.25" fill="#000" color="#000">CW</text>
<text x="521.9" y="147.05" font-size="6.4" letter-spacing="-0.25" fill="#000" color="#000">NW</text>
<defs><pattern id="g9" patternUnits="userSpaceOnUse" x="30.5" y="314.6" width="3.3767" height="2.4250"><rect x="-0.4" y="-0.4" width="0.8" height="0.8" fill="#cacaca"/></pattern></defs>
<rect x="31" y="237.5" width="100.3" height="76.6" fill="url(#g9)"/>
<rect x="30.5" y="237" width="101.3" height="77.6" fill="none" stroke="#ababab" stroke-width="0.9"/>
<path d="M30.5 314.6v-1M30.5 237v1M47.38 314.6v-1M47.38 237v1M64.27 314.6v-1M64.27 237v1M81.15 314.6v-1M81.15 237v1M98.03 314.6v-1M98.03 237v1M114.92 314.6v-1M114.92 237v1M131.8 314.6v-1M131.8 237v1M30.5 314.6h1M131.8 314.6h-1M30.5 295.2h1M131.8 295.2h-1M30.5 275.8h1M131.8 275.8h-1M30.5 256.4h1M131.8 256.4h-1M30.5 237h1M131.8 237h-1" stroke="#505050" stroke-width="0.6" fill="none"/>
<text x="30.5" y="324" font-size="6.4" text-anchor="middle" fill="#1a1a1a" color="#1a1a1a">T0</text>
<text x="47.38" y="324" font-size="6.4" text-anchor="middle" fill="#1a1a1a" color="#1a1a1a">T20</text>
<text x="64.27" y="324" font-size="6.4" text-anchor="middle" fill="#1a1a1a" color="#1a1a1a">T40</text>
<text x="81.15" y="324" font-size="6.4" text-anchor="middle" fill="#1a1a1a" color="#1a1a1a">T60</text>
<text x="98.03" y="324" font-size="6.4" text-anchor="middle" fill="#1a1a1a" color="#1a1a1a">T80</text>
<text x="114.92" y="324" font-size="6.4" text-anchor="middle" fill="#1a1a1a" color="#1a1a1a">T100</text>
<text x="131.8" y="324" font-size="6.4" text-anchor="middle" fill="#1a1a1a" color="#1a1a1a">T120</text>
<text x="27.8" y="317.2" font-size="6.4" text-anchor="end" fill="#1a1a1a" color="#1a1a1a">0</text>
<text x="27.8" y="297.8" font-size="6.4" text-anchor="end" fill="#1a1a1a" color="#1a1a1a">0.2</text>
<text x="27.8" y="278.4" font-size="6.4" text-anchor="end" fill="#1a1a1a" color="#1a1a1a">0.4</text>
<text x="27.8" y="259" font-size="6.4" text-anchor="end" fill="#1a1a1a" color="#1a1a1a">0.6</text>
<text x="27.8" y="239.6" font-size="6.4" text-anchor="end" fill="#1a1a1a" color="#1a1a1a">0.8</text>
<text x="81.15" y="234.5" font-size="7.1" font-weight="bold" letter-spacing="-0.4" text-anchor="middle" fill="#000" color="#000">#9</text>
<text x="81.15" y="333.6" font-size="7.4" text-anchor="middle" fill="#1a1a1a" color="#1a1a1a">time</text>
<text transform="translate(14.5 275.8) rotate(-90)" font-size="7.4" text-anchor="middle" fill="#1a1a1a" color="#1a1a1a">BAC g/L</text>
<polyline points="30.5,314.6 47.38,240.88 64.27,248.64 81.15,266.1 98.03,273.86 114.92,279.68 131.8,283.56" fill="none" stroke="#6e6eff" stroke-width="0.85"/>
<polyline points="30.5,314.6 47.38,242.82 64.27,253.49 81.15,266.1 98.03,271.92 114.92,277.74 131.8,281.62" fill="none" stroke="#ff7272" stroke-width="0.85"/>
<path d="M30.5 311.25l2.9 5.0h-5.8z" fill="#0000ff"/>
<path d="M47.38 237.53l2.9 5.0h-5.8z" fill="#0000ff"/>
<path d="M64.27 245.29l2.9 5.0h-5.8z" fill="#0000ff"/>
<path d="M81.15 262.75l2.9 5.0h-5.8z" fill="#0000ff"/>
<path d="M98.03 270.51l2.9 5.0h-5.8z" fill="#0000ff"/>
<path d="M114.92 276.33l2.9 5.0h-5.8z" fill="#0000ff"/>
<path d="M131.8 280.21l2.9 5.0h-5.8z" fill="#0000ff"/>
<rect x="28.75" y="312.85" width="3.5" height="3.5" fill="#ff0000"/>
<rect x="45.63" y="241.07" width="3.5" height="3.5" fill="#ff0000"/>
<rect x="62.52" y="251.74" width="3.5" height="3.5" fill="#ff0000"/>
<rect x="79.4" y="264.35" width="3.5" height="3.5" fill="#ff0000"/>
<rect x="96.28" y="270.17" width="3.5" height="3.5" fill="#ff0000"/>
<rect x="113.17" y="275.99" width="3.5" height="3.5" fill="#ff0000"/>
<rect x="130.05" y="279.87" width="3.5" height="3.5" fill="#ff0000"/>
<rect x="91" y="241" width="36.8" height="17" fill="#fff" stroke="#c0c0c0" stroke-width="0.9"/>
<path d="M93.4 245.7h19.8" stroke="#b0b0ff" stroke-width="0.8"/>
<path d="M93.4 253.2h19.8" stroke="#ffb0b0" stroke-width="0.8"/>
<path d="M103.4 242.4l2.9 5.0h-5.8z" fill="#0000ff"/>
<rect x="101.85" y="251.65" width="3.1" height="3.1" fill="#ff0000"/>
<text x="115" y="248.15" font-size="6.4" letter-spacing="-0.25" fill="#000" color="#000">CW</text>
<text x="115" y="255.65" font-size="6.4" letter-spacing="-0.25" fill="#000" color="#000">NW</text>
<defs><pattern id="g10" patternUnits="userSpaceOnUse" x="166.4" y="314.6" width="3.3733" height="2.4250"><rect x="-0.4" y="-0.4" width="0.8" height="0.8" fill="#cacaca"/></pattern></defs>
<rect x="166.9" y="237.5" width="100.2" height="76.6" fill="url(#g10)"/>
<rect x="166.4" y="237" width="101.2" height="77.6" fill="none" stroke="#ababab" stroke-width="0.9"/>
<path d="M166.4 314.6v-1M166.4 237v1M183.27 314.6v-1M183.27 237v1M200.13 314.6v-1M200.13 237v1M217 314.6v-1M217 237v1M233.87 314.6v-1M233.87 237v1M250.73 314.6v-1M250.73 237v1M267.6 314.6v-1M267.6 237v1M166.4 314.6h1M267.6 314.6h-1M166.4 295.2h1M267.6 295.2h-1M166.4 275.8h1M267.6 275.8h-1M166.4 256.4h1M267.6 256.4h-1M166.4 237h1M267.6 237h-1" stroke="#505050" stroke-width="0.6" fill="none"/>
<text x="166.4" y="324" font-size="6.4" text-anchor="middle" fill="#1a1a1a" color="#1a1a1a">T0</text>
<text x="183.27" y="324" font-size="6.4" text-anchor="middle" fill="#1a1a1a" color="#1a1a1a">T20</text>
<text x="200.13" y="324" font-size="6.4" text-anchor="middle" fill="#1a1a1a" color="#1a1a1a">T40</text>
<text x="217" y="324" font-size="6.4" text-anchor="middle" fill="#1a1a1a" color="#1a1a1a">T60</text>
<text x="233.87" y="324" font-size="6.4" text-anchor="middle" fill="#1a1a1a" color="#1a1a1a">T80</text>
<text x="250.73" y="324" font-size="6.4" text-anchor="middle" fill="#1a1a1a" color="#1a1a1a">T100</text>
<text x="267.6" y="324" font-size="6.4" text-anchor="middle" fill="#1a1a1a" color="#1a1a1a">T120</text>
<text x="163.7" y="317.2" font-size="6.4" text-anchor="end" fill="#1a1a1a" color="#1a1a1a">0</text>
<text x="163.7" y="297.8" font-size="6.4" text-anchor="end" fill="#1a1a1a" color="#1a1a1a">0.2</text>
<text x="163.7" y="278.4" font-size="6.4" text-anchor="end" fill="#1a1a1a" color="#1a1a1a">0.4</text>
<text x="163.7" y="259" font-size="6.4" text-anchor="end" fill="#1a1a1a" color="#1a1a1a">0.6</text>
<text x="163.7" y="239.6" font-size="6.4" text-anchor="end" fill="#1a1a1a" color="#1a1a1a">0.8</text>
<text x="217" y="234.5" font-size="7.1" font-weight="bold" letter-spacing="-0.4" text-anchor="middle" fill="#000" color="#000">#10</text>
<text x="217" y="333.6" font-size="7.4" text-anchor="middle" fill="#1a1a1a" color="#1a1a1a">time</text>
<text transform="translate(150.4 275.8) rotate(-90)" font-size="7.4" text-anchor="middle" fill="#1a1a1a" color="#1a1a1a">BAC g/L</text>
<polyline points="166.4,314.6 183.27,252.52 200.13,247.67 217,271.92 233.87,279.68 250.73,288.41 267.6,294.23" fill="none" stroke="#6e6eff" stroke-width="0.85"/>
<polyline points="166.4,314.6 183.27,260.28 200.13,241.85 217,255.43 233.87,270.95 250.73,279.68 267.6,285.5" fill="none" stroke="#ff7272" stroke-width="0.85"/>
<path d="M166.4 311.25l2.9 5.0h-5.8z" fill="#0000ff"/>
<path d="M183.27 249.17l2.9 5.0h-5.8z" fill="#0000ff"/>
<path d="M200.13 244.32l2.9 5.0h-5.8z" fill="#0000ff"/>
<path d="M217 268.57l2.9 5.0h-5.8z" fill="#0000ff"/>
<path d="M233.87 276.33l2.9 5.0h-5.8z" fill="#0000ff"/>
<path d="M250.73 285.06l2.9 5.0h-5.8z" fill="#0000ff"/>
<path d="M267.6 290.88l2.9 5.0h-5.8z" fill="#0000ff"/>
<rect x="164.65" y="312.85" width="3.5" height="3.5" fill="#ff0000"/>
<rect x="181.52" y="258.53" width="3.5" height="3.5" fill="#ff0000"/>
<rect x="198.38" y="240.1" width="3.5" height="3.5" fill="#ff0000"/>
<rect x="215.25" y="253.68" width="3.5" height="3.5" fill="#ff0000"/>
<rect x="232.12" y="269.2" width="3.5" height="3.5" fill="#ff0000"/>
<rect x="248.98" y="277.93" width="3.5" height="3.5" fill="#ff0000"/>
<rect x="265.85" y="283.75" width="3.5" height="3.5" fill="#ff0000"/>
<rect x="226.8" y="241" width="36.8" height="17" fill="#fff" stroke="#c0c0c0" stroke-width="0.9"/>
<path d="M229.2 245.7h19.8" stroke="#b0b0ff" stroke-width="0.8"/>
<path d="M229.2 253.2h19.8" stroke="#ffb0b0" stroke-width="0.8"/>
<path d="M239.2 242.4l2.9 5.0h-5.8z" fill="#0000ff"/>
<rect x="237.65" y="251.65" width="3.1" height="3.1" fill="#ff0000"/>
<text x="250.8" y="248.15" font-size="6.4" letter-spacing="-0.25" fill="#000" color="#000">CW</text>
<text x="250.8" y="255.65" font-size="6.4" letter-spacing="-0.25" fill="#000" color="#000">NW</text>
<defs><pattern id="g11" patternUnits="userSpaceOnUse" x="302.1" y="314.6" width="3.3767" height="2.4250"><rect x="-0.4" y="-0.4" width="0.8" height="0.8" fill="#cacaca"/></pattern></defs>
<rect x="302.6" y="237.5" width="100.3" height="76.6" fill="url(#g11)"/>
<rect x="302.1" y="237" width="101.3" height="77.6" fill="none" stroke="#ababab" stroke-width="0.9"/>
<path d="M302.1 314.6v-1M302.1 237v1M318.98 314.6v-1M318.98 237v1M335.87 314.6v-1M335.87 237v1M352.75 314.6v-1M352.75 237v1M369.63 314.6v-1M369.63 237v1M386.52 314.6v-1M386.52 237v1M403.4 314.6v-1M403.4 237v1M302.1 314.6h1M403.4 314.6h-1M302.1 295.2h1M403.4 295.2h-1M302.1 275.8h1M403.4 275.8h-1M302.1 256.4h1M403.4 256.4h-1M302.1 237h1M403.4 237h-1" stroke="#505050" stroke-width="0.6" fill="none"/>
<text x="302.1" y="324" font-size="6.4" text-anchor="middle" fill="#1a1a1a" color="#1a1a1a">T0</text>
<text x="318.98" y="324" font-size="6.4" text-anchor="middle" fill="#1a1a1a" color="#1a1a1a">T20</text>
<text x="335.87" y="324" font-size="6.4" text-anchor="middle" fill="#1a1a1a" color="#1a1a1a">T40</text>
<text x="352.75" y="324" font-size="6.4" text-anchor="middle" fill="#1a1a1a" color="#1a1a1a">T60</text>
<text x="369.63" y="324" font-size="6.4" text-anchor="middle" fill="#1a1a1a" color="#1a1a1a">T80</text>
<text x="386.52" y="324" font-size="6.4" text-anchor="middle" fill="#1a1a1a" color="#1a1a1a">T100</text>
<text x="403.4" y="324" font-size="6.4" text-anchor="middle" fill="#1a1a1a" color="#1a1a1a">T120</text>
<text x="299.4" y="317.2" font-size="6.4" text-anchor="end" fill="#1a1a1a" color="#1a1a1a">0</text>
<text x="299.4" y="297.8" font-size="6.4" text-anchor="end" fill="#1a1a1a" color="#1a1a1a">0.2</text>
<text x="299.4" y="278.4" font-size="6.4" text-anchor="end" fill="#1a1a1a" color="#1a1a1a">0.4</text>
<text x="299.4" y="259" font-size="6.4" text-anchor="end" fill="#1a1a1a" color="#1a1a1a">0.6</text>
<text x="299.4" y="239.6" font-size="6.4" text-anchor="end" fill="#1a1a1a" color="#1a1a1a">0.8</text>
<text x="352.75" y="234.5" font-size="7.1" font-weight="bold" letter-spacing="-0.4" text-anchor="middle" fill="#000" color="#000">#11</text>
<text x="352.75" y="333.6" font-size="7.4" text-anchor="middle" fill="#1a1a1a" color="#1a1a1a">time</text>
<text transform="translate(286.1 275.8) rotate(-90)" font-size="7.4" text-anchor="middle" fill="#1a1a1a" color="#1a1a1a">BAC g/L</text>
<polyline points="302.1,314.6 318.98,264.16 335.87,256.4 352.75,264.16 369.63,272.89 386.52,281.62 403.4,287.44" fill="none" stroke="#6e6eff" stroke-width="0.85"/>
<polyline points="302.1,314.6 318.98,251.55 335.87,256.4 352.75,272.89 369.63,284.53 386.52,291.32 403.4,295.2" fill="none" stroke="#ff7272" stroke-width="0.85"/>
<path d="M302.1 311.25l2.9 5.0h-5.8z" fill="#0000ff"/>
<path d="M318.98 260.81l2.9 5.0h-5.8z" fill="#0000ff"/>
<path d="M335.87 253.05l2.9 5.0h-5.8z" fill="#0000ff"/>
<path d="M352.75 260.81l2.9 5.0h-5.8z" fill="#0000ff"/>
<path d="M369.63 269.54l2.9 5.0h-5.8z" fill="#0000ff"/>
<path d="M386.52 278.27l2.9 5.0h-5.8z" fill="#0000ff"/>
<path d="M403.4 284.09l2.9 5.0h-5.8z" fill="#0000ff"/>
<rect x="300.35" y="312.85" width="3.5" height="3.5" fill="#ff0000"/>
<rect x="317.23" y="249.8" width="3.5" height="3.5" fill="#ff0000"/>
<rect x="334.12" y="254.65" width="3.5" height="3.5" fill="#ff0000"/>
<rect x="351" y="271.14" width="3.5" height="3.5" fill="#ff0000"/>
<rect x="367.88" y="282.78" width="3.5" height="3.5" fill="#ff0000"/>
<rect x="384.77" y="289.57" width="3.5" height="3.5" fill="#ff0000"/>
<rect x="401.65" y="293.45" width="3.5" height="3.5" fill="#ff0000"/>
<rect x="362.6" y="241" width="36.8" height="17" fill="#fff" stroke="#c0c0c0" stroke-width="0.9"/>
<path d="M365 245.7h19.8" stroke="#b0b0ff" stroke-width="0.8"/>
<path d="M365 253.2h19.8" stroke="#ffb0b0" stroke-width="0.8"/>
<path d="M375 242.4l2.9 5.0h-5.8z" fill="#0000ff"/>
<rect x="373.45" y="251.65" width="3.1" height="3.1" fill="#ff0000"/>
<text x="386.6" y="248.15" font-size="6.4" letter-spacing="-0.25" fill="#000" color="#000">CW</text>
<text x="386.6" y="255.65" font-size="6.4" letter-spacing="-0.25" fill="#000" color="#000">NW</text>
<defs><pattern id="g12" patternUnits="userSpaceOnUse" x="438.1" y="314.6" width="3.3533" height="2.4250"><rect x="-0.4" y="-0.4" width="0.8" height="0.8" fill="#cacaca"/></pattern></defs>
<rect x="438.6" y="237.5" width="99.6" height="76.6" fill="url(#g12)"/>
<rect x="438.1" y="237" width="100.6" height="77.6" fill="none" stroke="#ababab" stroke-width="0.9"/>
<path d="M438.1 314.6v-1M438.1 237v1M454.87 314.6v-1M454.87 237v1M471.63 314.6v-1M471.63 237v1M488.4 314.6v-1M488.4 237v1M505.17 314.6v-1M505.17 237v1M521.93 314.6v-1M521.93 237v1M538.7 314.6v-1M538.7 237v1M438.1 314.6h1M538.7 314.6h-1M438.1 295.2h1M538.7 295.2h-1M438.1 275.8h1M538.7 275.8h-1M438.1 256.4h1M538.7 256.4h-1M438.1 237h1M538.7 237h-1" stroke="#505050" stroke-width="0.6" fill="none"/>
<text x="438.1" y="324" font-size="6.4" text-anchor="middle" fill="#1a1a1a" color="#1a1a1a">T0</text>
<text x="454.87" y="324" font-size="6.4" text-anchor="middle" fill="#1a1a1a" color="#1a1a1a">T20</text>
<text x="471.63" y="324" font-size="6.4" text-anchor="middle" fill="#1a1a1a" color="#1a1a1a">T40</text>
<text x="488.4" y="324" font-size="6.4" text-anchor="middle" fill="#1a1a1a" color="#1a1a1a">T60</text>
<text x="505.17" y="324" font-size="6.4" text-anchor="middle" fill="#1a1a1a" color="#1a1a1a">T80</text>
<text x="521.93" y="324" font-size="6.4" text-anchor="middle" fill="#1a1a1a" color="#1a1a1a">T100</text>
<text x="538.7" y="324" font-size="6.4" text-anchor="middle" fill="#1a1a1a" color="#1a1a1a">T120</text>
<text x="435.4" y="317.2" font-size="6.4" text-anchor="end" fill="#1a1a1a" color="#1a1a1a">0</text>
<text x="435.4" y="297.8" font-size="6.4" text-anchor="end" fill="#1a1a1a" color="#1a1a1a">0.2</text>
<text x="435.4" y="278.4" font-size="6.4" text-anchor="end" fill="#1a1a1a" color="#1a1a1a">0.4</text>
<text x="435.4" y="259" font-size="6.4" text-anchor="end" fill="#1a1a1a" color="#1a1a1a">0.6</text>
<text x="435.4" y="239.6" font-size="6.4" text-anchor="end" fill="#1a1a1a" color="#1a1a1a">0.8</text>
<text x="488.4" y="234.5" font-size="7.1" font-weight="bold" letter-spacing="-0.4" text-anchor="middle" fill="#000" color="#000">#12</text>
<text x="488.4" y="333.6" font-size="7.4" text-anchor="middle" fill="#1a1a1a" color="#1a1a1a">time</text>
<text transform="translate(422.1 275.8) rotate(-90)" font-size="7.4" text-anchor="middle" fill="#1a1a1a" color="#1a1a1a">BAC g/L</text>
<polyline points="438.1,314.6 454.87,257.37 471.63,255.43 488.4,268.04 505.17,274.83 521.93,281.62 538.7,285.5" fill="none" stroke="#6e6eff" stroke-width="0.85"/>
<polyline points="438.1,314.6 454.87,263.19 471.63,250.58 488.4,266.1 505.17,275.8 521.93,281.62 538.7,286.47" fill="none" stroke="#ff7272" stroke-width="0.85"/>
<path d="M438.1 311.25l2.9 5.0h-5.8z" fill="#0000ff"/>
<path d="M454.87 254.02l2.9 5.0h-5.8z" fill="#0000ff"/>
<path d="M471.63 252.08l2.9 5.0h-5.8z" fill="#0000ff"/>
<path d="M488.4 264.69l2.9 5.0h-5.8z" fill="#0000ff"/>
<path d="M505.17 271.48l2.9 5.0h-5.8z" fill="#0000ff"/>
<path d="M521.93 278.27l2.9 5.0h-5.8z" fill="#0000ff"/>
<path d="M538.7 282.15l2.9 5.0h-5.8z" fill="#0000ff"/>
<rect x="436.35" y="312.85" width="3.5" height="3.5" fill="#ff0000"/>
<rect x="453.12" y="261.44" width="3.5" height="3.5" fill="#ff0000"/>
<rect x="469.88" y="248.83" width="3.5" height="3.5" fill="#ff0000"/>
<rect x="486.65" y="264.35" width="3.5" height="3.5" fill="#ff0000"/>
<rect x="503.42" y="274.05" width="3.5" height="3.5" fill="#ff0000"/>
<rect x="520.18" y="279.87" width="3.5" height="3.5" fill="#ff0000"/>
<rect x="536.95" y="284.72" width="3.5" height="3.5" fill="#ff0000"/>
<rect x="497.9" y="241" width="36.8" height="17" fill="#fff" stroke="#c0c0c0" stroke-width="0.9"/>
<path d="M500.3 245.7h19.8" stroke="#b0b0ff" stroke-width="0.8"/>
<path d="M500.3 253.2h19.8" stroke="#ffb0b0" stroke-width="0.8"/>
<path d="M510.3 242.4l2.9 5.0h-5.8z" fill="#0000ff"/>
<rect x="508.75" y="251.65" width="3.1" height="3.1" fill="#ff0000"/>
<text x="521.9" y="248.15" font-size="6.4" letter-spacing="-0.25" fill="#000" color="#000">CW</text>
<text x="521.9" y="255.65" font-size="6.4" letter-spacing="-0.25" fill="#000" color="#000">NW</text>
</svg></body></html>
